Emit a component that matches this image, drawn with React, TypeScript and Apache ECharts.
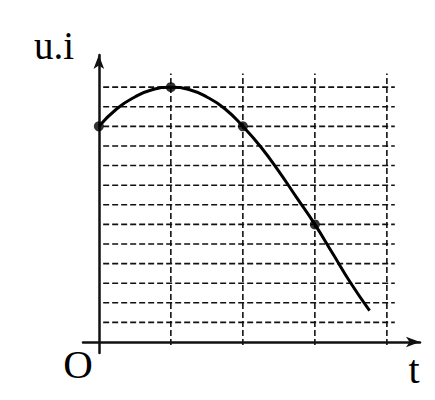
import { useEffect, useRef } from 'react';
import * as echarts from 'echarts';

// curve (t and u.i in grid units)
const curveT = [0, 0.25, 0.5, 0.75, 1, 1.25, 1.5, 1.75, 2, 2.25, 2.5, 2.75, 3, 3.25, 3.5, 3.76];
const curveV = [11, 11.9, 12.5, 12.88, 13, 12.88, 12.5, 11.9, 11, 9.95, 8.7, 7.35, 6, 4.5, 3, 1.6];

// marked points
const dotT = [0, 1, 2, 3];
const dotV = [11, 13, 11, 6];

// dashed helper grid
const hLevels = [1, 2, 3, 4, 5, 6, 7, 8, 9, 10, 11, 12, 13];
const hStart = 0.06;
const hEnd = 4.11;
const vLevels = [1, 2, 3, 4];
const vTop = 13.7;

const axisColor = '#111';
const gridColor = '#111';
const serif = '"Liberation Serif", "DejaVu Serif", serif';

export default function App() {
  const ref = useRef<HTMLDivElement>(null);

  useEffect(() => {
    if (!ref.current) return;
    const chart = echarts.init(ref.current, undefined, { renderer: 'svg' });

    const dashed = { color: gridColor, width: 1.6, type: [6, 3] as number[] };

    const hSeries = hLevels.map((h) => ({
      type: 'line',
      silent: true,
      symbol: 'none',
      lineStyle: dashed,
      data: [
        [hStart, h],
        [hEnd, h],
      ],
    }));
    const vSeries = vLevels.map((t) => ({
      type: 'line',
      silent: true,
      symbol: 'none',
      lineStyle: dashed,
      data: [
        [t, -0.15],
        [t, vTop],
      ],
    }));

    chart.setOption({
      animation: false,
      grid: { left: 83, right: 15, top: 55, bottom: 47 },
      xAxis: {
        type: 'value',
        min: -0.22,
        max: 4.46,
        axisLine: {
          onZero: true,
          symbol: ['none', 'arrow'],
          symbolSize: [8, 14],
          lineStyle: { color: axisColor, width: 2.5 },
        },
        axisTick: { show: false },
        axisLabel: { show: false },
        splitLine: { show: false },
      },
      yAxis: {
        type: 'value',
        min: -0.56,
        max: 14.64,
        axisLine: {
          show: true,
          onZero: true,
          symbol: ['none', 'arrow'],
          symbolSize: [8, 14],
          lineStyle: { color: axisColor, width: 2.5 },
        },
        axisTick: { show: false },
        axisLabel: { show: false },
        splitLine: { show: false },
      },
      series: [
        ...hSeries,
        ...vSeries,
        {
          type: 'line',
          smooth: true,
          symbol: 'none',
          lineStyle: { color: '#000', width: 3 },
          data: curveT.map((t, i) => [t, curveV[i]]),
          z: 5,
        },
        {
          type: 'scatter',
          symbolSize: 10,
          itemStyle: { color: '#000' },
          data: dotT.map((t, i) => [t, dotV[i]]),
          z: 6,
        },
      ],
      graphic: [
        {
          type: 'text',
          x: 54,
          y: 45,
          style: { text: 'u.i', font: `39px ${serif}`, fill: '#000', align: 'center', verticalAlign: 'middle' },
        },
        {
          type: 'text',
          x: 78,
          y: 364,
          style: { text: 'O', font: `41px ${serif}`, fill: '#000', align: 'center', verticalAlign: 'middle' },
        },
        {
          type: 'text',
          x: 414,
          y: 369,
          style: { text: 't', font: `40px ${serif}`, fill: '#000', align: 'center', verticalAlign: 'middle' },
        },
      ],
    });

    return () => chart.dispose();
  }, []);

  return (
    <div
      ref={ref}
      style={{ position: 'absolute', left: 0, top: 0, width: 435, height: 400, background: '#fff' }}
    />
  );
}
